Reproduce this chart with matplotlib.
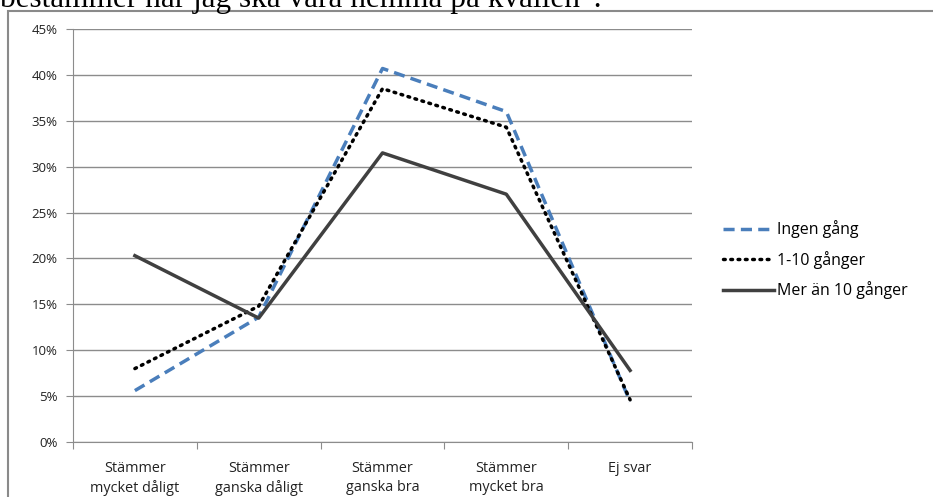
import matplotlib.pyplot as plt
from matplotlib.patches import Rectangle
from matplotlib.ticker import FixedLocator, PercentFormatter

categories = ["Stämmer\nmycket dåligt", "Stämmer\nganska dåligt", "Stämmer\nganska bra",
              "Stämmer\nmycket bra", "Ej svar"]
ingen = [5.6, 13.6, 40.7, 36.0, 4.4]
en_tio = [8.0, 14.8, 38.5, 34.3, 4.6]
mer_tio = [20.3, 13.5, 31.5, 27.0, 7.8]
series_names = ["Ingen gång", "1-10 gånger", "Mer än 10 gånger"]

plt.rcParams['font.family'] = ['Open Sans', 'DejaVu Sans']
W, H = 933, 497
fig = plt.figure(figsize=(W/100, H/100), dpi=100)

# frame round the chart (cut by the image edge)
fig.patches.append(Rectangle((8/W, -0.1), 1.2, (H-11)/H + 0.1, transform=fig.transFigure,
                             fill=False, ec='#8a8a8a', lw=1.5))
fig.text(0/W, (H-7)/H, "bestämmer när jag ska vara hemma på kvällen”.",
         family='Liberation Serif', fontsize=22.5, ha='left', va='baseline', color='black')

ax = fig.add_axes([73/W, (H-442)/H, (692-73)/W, (442-29)/H])
x = list(range(len(categories)))
l1, = ax.plot(x, ingen, color='#4a7ebb', lw=2.5, ls=(0, (3.2, 1.8)))
l2, = ax.plot(x, en_tio, color='black', lw=2.5, ls=(0, (0.5, 1.6)), dash_capstyle='round')
l3, = ax.plot(x, mer_tio, color='#404040', lw=2.5)

ax.set_xlim(-0.5, len(categories) - 0.5)
ax.set_ylim(0, 45)
ax.set_yticks(range(0, 50, 5))
ax.yaxis.set_major_formatter(PercentFormatter(decimals=0))
ax.grid(axis='y', color='#8c8c8c', lw=1)
ax.set_axisbelow(True)

ax.xaxis.set_major_locator(FixedLocator([i - 0.5 for i in range(len(categories) + 1)]))
ax.xaxis.set_minor_locator(FixedLocator(x))
ax.set_xticklabels([])
ax.set_xticklabels(categories, minor=True)
ax.tick_params(axis='x', which='major', length=5, color='#8c8c8c', direction='out')
ax.tick_params(axis='x', which='minor', length=0, pad=14, labelsize=10.4, labelcolor='#222222')
ax.tick_params(axis='y', length=5, color='#8c8c8c', labelsize=9.5, labelcolor='#222222', pad=6)
for t in ax.get_xticklabels(minor=True):
    t.set_linespacing(1.3)

for s in ['top', 'right']:
    ax.spines[s].set_visible(False)
for s in ['left', 'bottom']:
    ax.spines[s].set_color('#8c8c8c')

fig.legend([l1, l2, l3], series_names, loc='upper left',
           bbox_to_anchor=(709/W, (H-206)/H), frameon=False, fontsize=11.5,
           handlelength=3.2, handletextpad=0.15, labelspacing=0.78)

fig.savefig('out.png', dpi=100)
